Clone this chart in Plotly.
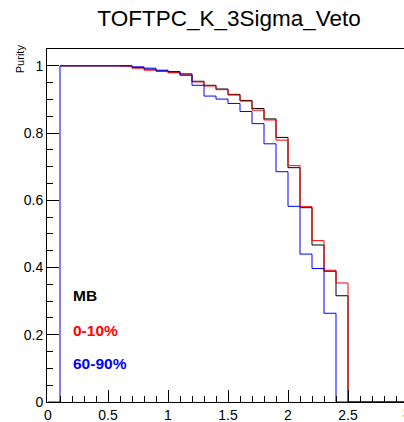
import plotly.graph_objects as go

# Bin edges (width 0.1) from 0 to 3
bin_edges = [0.0, 0.1, 0.2, 0.3, 0.4, 0.5, 0.6, 0.7, 0.8, 0.9, 1.0,
             1.1, 1.2, 1.3, 1.4, 1.5, 1.6, 1.7, 1.8, 1.9, 2.0,
             2.1, 2.2, 2.3, 2.4, 2.5, 2.6, 2.7, 2.8, 2.9, 3.0]

purity_mb = [0, 1.0, 1.0, 1.0, 1.0, 1.0, 1.0, 0.995, 0.990, 0.985,
             0.981, 0.976, 0.954, 0.942, 0.931, 0.915, 0.897, 0.873, 0.842, 0.787,
             0.697, 0.578, 0.467, 0.389, 0.316, 0, 0, 0, 0, 0]

purity_0_10 = [0, 1.0, 1.0, 1.0, 1.0, 1.0, 0.999, 0.993, 0.987, 0.983,
               0.979, 0.973, 0.952, 0.940, 0.929, 0.913, 0.895, 0.868, 0.839, 0.779,
               0.703, 0.581, 0.480, 0.392, 0.354, 0, 0, 0, 0, 0]

purity_60_90 = [0, 1.0, 1.0, 1.0, 1.0, 1.0, 1.0, 0.997, 0.993, 0.987,
                0.983, 0.972, 0.942, 0.910, 0.901, 0.888, 0.864, 0.828, 0.768, 0.685,
                0.582, 0.440, 0.397, 0.264, 0, 0, 0, 0, 0, 0]

series = [("MB", purity_mb, "#000000"),
          ("0-10%", purity_0_10, "#ff0000"),
          ("60-90%", purity_60_90, "#0000ff")]

title_text = "TOFTPC_K_3Sigma_Veto"
y_title = "Purity"

FONT = "Liberation Sans, Arial, Helvetica, sans-serif"

fig = go.Figure()
for i, (name, vals, col) in enumerate(series):
    xs = bin_edges
    ys = vals + [vals[-1]]
    if i < len(series) - 1:
        # the common rising edge at the first filled bin is drawn by the top series
        xs, ys = xs[1:], ys[1:]
    fig.add_trace(go.Scatter(
        x=xs, y=ys, mode="lines", name=name,
        line=dict(color=col, width=1, shape="hv"), showlegend=False,
        hoverinfo="skip"))

# legend-like labels
label_y = [0.316, 0.212, 0.114]
for (name, vals, col), ly in zip(series, label_y):
    fig.add_annotation(x=0.19, y=ly, xref="x", yref="y", text="<b>%s</b>" % name,
                       showarrow=False, xanchor="left", yanchor="middle",
                       font=dict(family=FONT, size=15.5, color=col))

# y-axis title at top (ROOT style)
fig.add_annotation(x=-0.0765, y=0.973, xref="paper", yref="paper", text=y_title,
                   textangle=-90, showarrow=False, xanchor="center", yanchor="middle",
                   font=dict(family=FONT, size=11, color="black"))

# partially visible last x tick label
fig.add_annotation(x=1.0093, y=-0.0325, xref="paper", yref="paper", text="3",
                   showarrow=False, xanchor="center", yanchor="middle",
                   font=dict(family=FONT, size=14, color="black"))

fig.update_layout(
    width=404, height=422,
    margin=dict(l=47, r=0, t=49, b=20),
    paper_bgcolor="white", plot_bgcolor="white",
    title=dict(text=title_text, x=0.567, xref="container", xanchor="center",
               y=1 - 18 / 422, yref="container", yanchor="middle",
               font=dict(family=FONT, size=22.5, color="black")),
    font=dict(family=FONT, size=14, color="black"),
)
fig.update_xaxes(range=[-1 / 120, 2.975 - 1 / 120], showgrid=False, zeroline=False,
                 showline=True, linecolor="black", linewidth=1, mirror=True,
                 ticks="inside", ticklen=12, tickcolor="black", tickwidth=1,
                 dtick=0.5, tick0=0,
                 minor=dict(ticks="inside", ticklen=6, dtick=0.1, tickcolor="black", showgrid=False),
                 tickfont=dict(family=FONT, size=14, color="black"))
fig.update_yaxes(range=[0, 1.05], showgrid=False, zeroline=False,
                 showline=True, linecolor="black", linewidth=1, mirror=False,
                 ticks="inside", ticklen=12, tickcolor="black", tickwidth=1,
                 dtick=0.2, tick0=0,
                 minor=dict(ticks="inside", ticklen=6, dtick=0.05, tickcolor="black", showgrid=False),
                 tickfont=dict(family=FONT, size=14, color="black"))

fig.write_html("out.html", config={"displayModeBar": False},
               post_script="document.body.style.margin='0';")
